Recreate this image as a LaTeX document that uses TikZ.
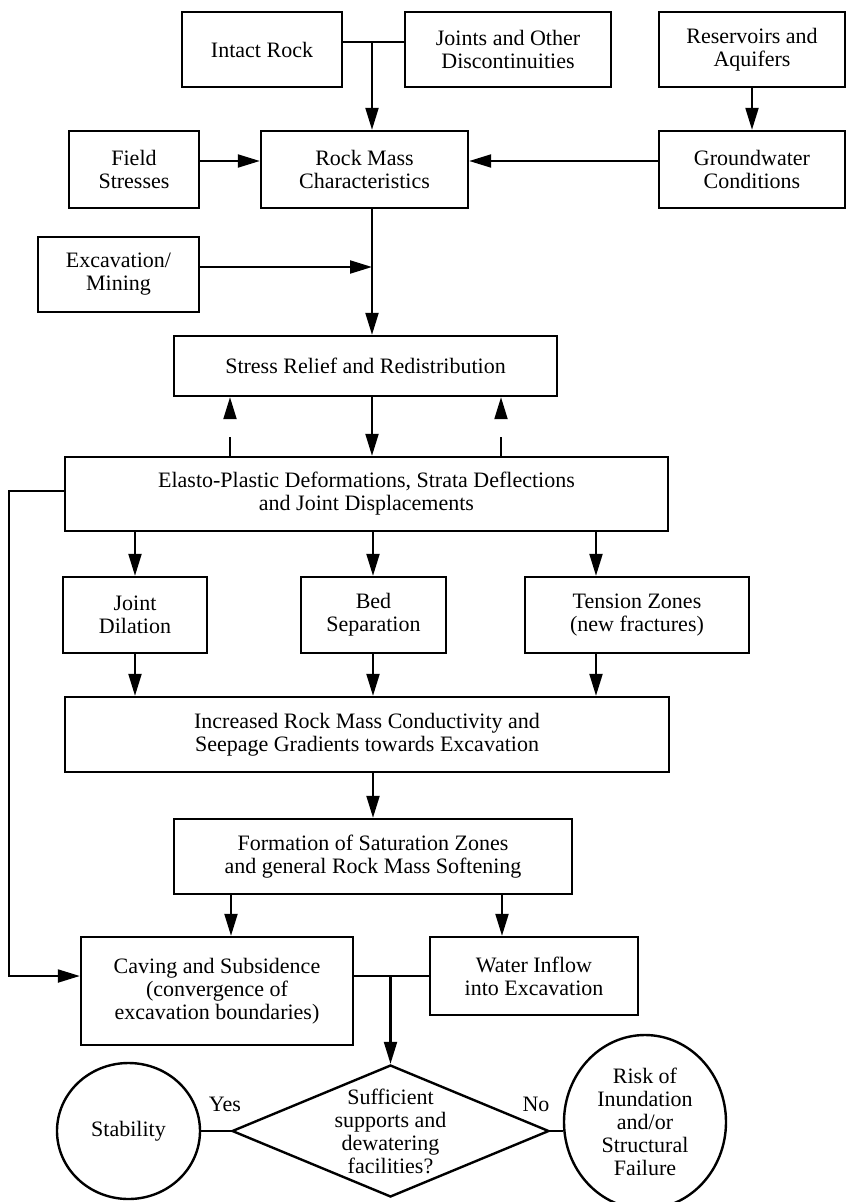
\documentclass[tikz,border=0pt]{standalone}
\usepackage{fontspec}
\setmainfont{Liberation Serif}
\usetikzlibrary{shapes.geometric,arrows.meta}
\newcommand\fs{\fontsize{22}{23}\selectfont}
\tikzset{
  box/.style={draw, line width=2.4pt, inner sep=0pt, align=center, font=\fs},
  txt/.style={inner sep=0pt, align=center, font=\fs},
  arr/.style={-{Triangle[length=22pt,width=13pt]}, line width=2.1pt},
  ln/.style={line width=2.1pt},
}
\begin{document}
\begin{tikzpicture}[x=1pt,y=-1pt]
\useasboundingbox (0,0) rectangle (846,1202);
% row 1
\node[box, minimum width=160, minimum height=75] (intact) at (262,49.5) {Intact Rock};
\node[box, minimum width=206, minimum height=75] (joints) at (508,49.5) {Joints and Other\\Discontinuities};
\node[box, minimum width=186, minimum height=75] (reservoirs) at (752,49.5) {Reservoirs and\\Aquifers};
% row 2
\node[box, minimum width=130, minimum height=77] (field) at (134,169.5) {Field\\Stresses};
\node[box, minimum width=207, minimum height=77] (rockmass) at (364.5,169.5) {Rock Mass\\Characteristics};
\node[box, minimum width=186, minimum height=77] (groundwater) at (752,169.5) {Groundwater\\Conditions};
% excavation
\node[box, minimum width=161, minimum height=75] (excav) at (118.5,274.5) {Excavation/\\Mining};
\node[box, minimum width=383, minimum height=60] (stress) at (365.5,366) {Stress Relief and Redistribution};
\node[box, minimum width=603, minimum height=74] (elasto) at (366.5,494) {Elasto-Plastic Deformations, Strata Deflections\\and Joint Displacements};
% three effects
\node[box, minimum width=144, minimum height=76] (dilation) at (135,615) {Joint\\Dilation};
\node[box, minimum width=145, minimum height=76] (bed) at (373.5,615) {Bed\\Separation};
\node[box, minimum width=224, minimum height=76] (tension) at (637,615) {Tension Zones\\(new fractures)};
\node[box, minimum width=604, minimum height=75] (increased) at (367,734.5) {Increased Rock Mass Conductivity and\\Seepage Gradients towards Excavation};
\node[box, minimum width=398, minimum height=75] (formation) at (373,856.5) {Formation of Saturation Zones\\and general Rock Mass Softening};
\node[box, minimum width=272, minimum height=108] (caving) at (217,991) {Caving and Subsidence\\(convergence of\\excavation boundaries)};
\node[box, minimum width=208, minimum height=78] (water) at (534,976) {Water Inflow\\into Excavation};
% decision
\node[draw, line width=2.4pt, diamond, minimum width=317, minimum height=132, inner sep=0pt] (dec) at (390.5,1131) {};
\node[txt] (dectext) at (390.5,1131) {Sufficient\\supports and\\dewatering\\facilities?};
\node[draw, line width=2.4pt, ellipse, minimum width=143, minimum height=136, inner sep=0pt, font=\fs] (stab) at (128.5,1131) {Stability};
\node[draw, line width=2.4pt, ellipse, minimum width=162, minimum height=174, inner sep=0pt, align=center, font=\fs] (risk) at (645,1122) {Risk of\\Inundation\\and/or\\Structural\\Failure};
\node[txt] (yes) at (225,1104) {Yes};
\node[txt] (no) at (536,1104) {No};
% connectors
\coordinate (j1) at (372,42);
\draw[ln] (intact.east |- j1) -- (joints.west |- j1);
\draw[arr] (j1) -- (rockmass.north -| j1);
\draw[arr] (reservoirs) -- (groundwater);
\coordinate (fy) at (0,161);
\draw[arr] (field.east |- fy) -- (rockmass.west |- fy);
\draw[arr] (groundwater.west |- fy) -- (rockmass.east |- fy);
\coordinate (j2) at (372,267);
\draw[arr] (rockmass.south -| j1) -- (stress.north -| j1);
\draw[arr] (excav.east |- j2) -- (j2);
\draw[arr] (stress.south -| j1) -- (elasto.north -| j1);
\coordinate (d1) at (230,0);
\coordinate (d2) at (501,0);
\draw[arr, dash pattern=on 19pt off 300pt] (elasto.north -| d1) -- (stress.south -| d1);
\draw[arr, dash pattern=on 19pt off 300pt] (elasto.north -| d2) -- (stress.south -| d2);
\coordinate (fb) at (9,491);
\coordinate (fc) at (9,976);
\draw[arr] (elasto.west |- fb) -- (fb) -- (fc) -- (caving.west |- fc);
\coordinate (c1) at (135,0);
\coordinate (c2) at (373,0);
\coordinate (c3) at (596,0);
\draw[arr] (elasto.south -| c1) -- (dilation.north -| c1);
\draw[arr] (elasto.south -| c2) -- (bed.north -| c2);
\draw[arr] (elasto.south -| c3) -- (tension.north -| c3);
\draw[arr] (dilation.south -| c1) -- (increased.north -| c1);
\draw[arr] (bed.south -| c2) -- (increased.north -| c2);
\draw[arr] (tension.south -| c3) -- (increased.north -| c3);
\draw[arr] (increased.south -| c2) -- (formation.north -| c2);
\coordinate (c4) at (231,0);
\coordinate (c5) at (502,0);
\draw[arr] (formation.south -| c4) -- (caving.north -| c4);
\draw[arr] (formation.south -| c5) -- (water.north -| c5);
\coordinate (j3) at (390.5,976);
\draw[ln] (caving.east |- j3) -- (water.west |- j3);
\draw[arr] (j3) -- (dec.north);
\draw[ln] (stab.east) -- (dec.west);
\draw[ln] (dec.east) -- (risk.west |- dec.east);
\end{tikzpicture}
\end{document}
